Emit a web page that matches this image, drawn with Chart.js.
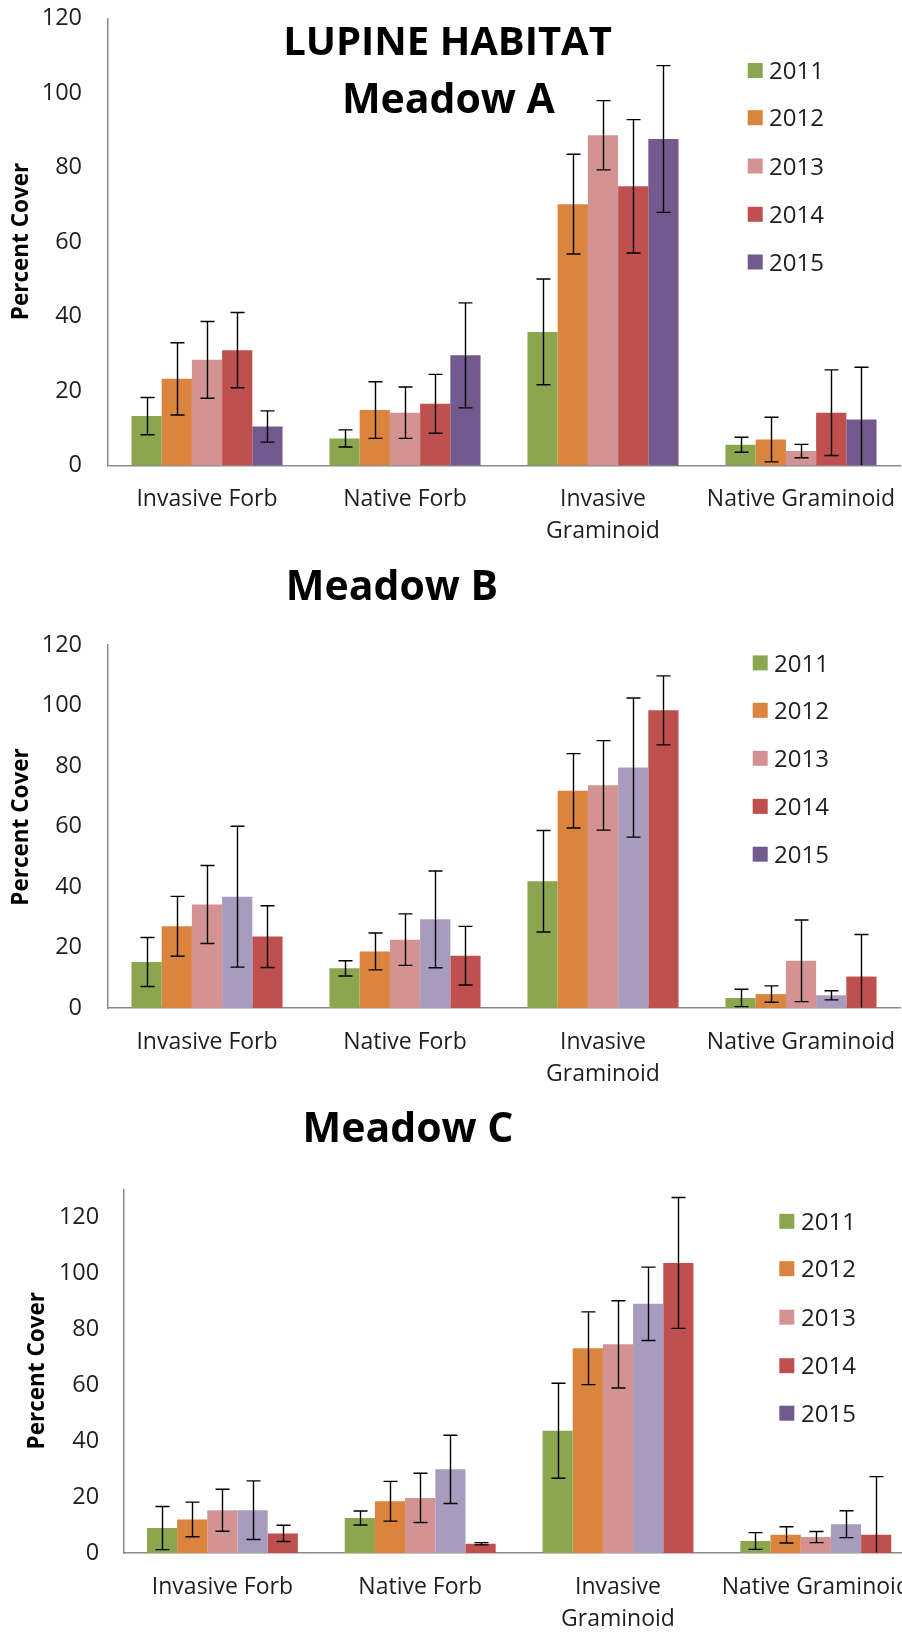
<!DOCTYPE html>
<html><head><meta charset="utf-8">
<script src="https://cdn.jsdelivr.net/npm/chart.js@4.4.1/dist/chart.umd.min.js"></script>
<style>
html,body{margin:0;padding:0;background:#fff;overflow:hidden;width:902px;height:1634px;}
#page{position:relative;width:902px;height:1634px;overflow:hidden;background:#fff;}
canvas{position:absolute;left:0;}
</style></head><body><div id="page">
<canvas id="cA" width="902" height="570" style="top:0px"></canvas>
<canvas id="cB" width="902" height="550" style="top:545px"></canvas>
<canvas id="cC" width="920" height="564" style="top:1070px"></canvas>
</div>
<script>
// ---------- data ----------
const categories = [['Invasive Forb'], ['Native Forb'], ['Invasive', 'Graminoid'], ['Native Graminoid']];
const years = ['2011', '2012', '2013', '2014', '2015'];
const yTickStep = 20;

// rows = series (in drawing order), columns = categories
const meadowAMeans = [
  [13.3, 7.3, 35.9, 5.6],
  [23.3, 14.9, 70.2, 7.0],
  [28.4, 14.2, 88.7, 3.9],
  [31.0, 16.6, 75.0, 14.2],
  [10.5, 29.6, 87.7, 12.4]
];
const meadowAErrors = [
  [5.0, 2.3, 14.2, 2.0],
  [9.7, 7.6, 13.4, 6.0],
  [10.3, 6.9, 9.3, 1.8],
  [10.1, 7.9, 17.9, 11.5],
  [4.2, 14.1, 19.7, 14.0]
];
const meadowBMeans = [
  [15.2, 13.1, 41.9, 3.3],
  [27.0, 18.7, 71.8, 4.6],
  [34.2, 22.6, 73.6, 15.6],
  [36.8, 29.3, 79.5, 4.2],
  [23.6, 17.3, 98.4, 10.4]
];
const meadowBErrors = [
  [8.1, 2.5, 16.8, 2.9],
  [9.9, 6.1, 12.3, 2.7],
  [12.9, 8.5, 14.8, 13.5],
  [23.3, 16.0, 23.0, 1.5],
  [10.2, 9.7, 11.4, 13.9]
];
const meadowCMeans = [
  [8.9, 12.5, 43.7, 4.3],
  [12.0, 18.5, 73.2, 6.5],
  [15.3, 19.7, 74.6, 5.7],
  [15.3, 29.9, 89.1, 10.3],
  [7.0, 3.3, 103.7, 6.5]
];
const meadowCErrors = [
  [7.7, 2.5, 17.0, 3.0],
  [6.2, 7.1, 13.0, 2.9],
  [7.5, 8.8, 15.6, 2.0],
  [10.5, 12.2, 13.1, 4.8],
  [2.9, 0.4, 23.4, 20.8]
];
const yMaxA = 120, yMaxB = 120, yMaxC = 130;

// ---------- styles ----------
const GREEN = '#8BA64F', ORANGE = '#DB843D', PINK = '#D49393', RED = '#C0504D', PURPLE = '#725A8F', LAVENDER = '#A99BBD';
const barColorsA = [GREEN, ORANGE, PINK, RED, PURPLE];
const barColorsBC = [GREEN, ORANGE, PINK, LAVENDER, RED];
const legendColors = [GREEN, ORANGE, PINK, RED, PURPLE];
const FONT = '"Open Sans", "Noto Sans", sans-serif';
const TXT = '#1f1f1f';

const errorBarPlugin = {
  id: 'errbars',
  afterDatasetsDraw(chart) {
    const {ctx, chartArea, scales} = chart;
    const y = scales.y;
    ctx.save();
    ctx.beginPath();
    ctx.rect(chartArea.left, 0, chartArea.right - chartArea.left + 20, chartArea.bottom - 0.5);
    ctx.clip();
    ctx.strokeStyle = '#000';
    ctx.lineWidth = 1.4;
    chart.data.datasets.forEach((ds, di) => {
      const meta = chart.getDatasetMeta(di);
      meta.data.forEach((bar, i) => {
        const v = ds.data[i], e = ds.errors[i];
        const x = Math.round(bar.x) + 0.5;
        const yt = y.getPixelForValue(v + e), yb = y.getPixelForValue(v - e);
        ctx.beginPath();
        ctx.moveTo(x, yt); ctx.lineTo(x, yb);
        ctx.moveTo(x - 7, yt); ctx.lineTo(x + 7, yt);
        ctx.moveTo(x - 7, yb); ctx.lineTo(x + 7, yb);
        ctx.stroke();
      });
    });
    ctx.restore();
  }
};

function overlayPlugin(texts, legend, offY) {
  return {
    id: 'overlay',
    afterDraw(chart) {
      const ctx = chart.ctx;
      ctx.save();
      texts.forEach(t => {
        ctx.save();
        ctx.font = t.font;
        ctx.fillStyle = t.color || '#000';
        ctx.textAlign = 'center';
        ctx.textBaseline = 'alphabetic';
        ctx.translate(t.x, t.y - offY);
        if (t.rot) ctx.rotate(t.rot);
        ctx.fillText(t.text, 0, 0);
        ctx.restore();
      });
      years.forEach((yr, i) => {
        const cy = legend.rows[i] - offY;
        ctx.fillStyle = legendColors[i];
        ctx.fillRect(legend.sx, cy - 7.5, 15, 15);
        ctx.fillStyle = TXT;
        ctx.font = '24px ' + FONT;
        ctx.textAlign = 'left';
        ctx.textBaseline = 'alphabetic';
        ctx.fillText(yr, legend.tx, cy + 8.6);
      });
      ctx.restore();
    }
  };
}

function makeChart(id, means, errs, barColors, yMax, g, texts, legend) {
  return new Chart(document.getElementById(id), {
    type: 'bar',
    data: {
      labels: categories,
      datasets: years.map((yr, i) => ({
        label: yr, data: means[i], errors: errs[i], backgroundColor: barColors[i],
        borderWidth: 0, barPercentage: 1.0, categoryPercentage: 0.763
      }))
    },
    options: {
      responsive: false, animation: false, devicePixelRatio: 1,
      layout: {padding: {top: g.top, right: g.right, left: 0, bottom: 0}},
      plugins: {legend: {display: false}, title: {display: false}, tooltip: {enabled: false}},
      scales: {
        x: {
          grid: {display: false, drawTicks: false},
          border: {display: true, color: '#8A8A8A', width: 1.5},
          ticks: {font: {family: FONT, size: 23, lineHeight: 1.39}, color: TXT, padding: 18, maxRotation: 0, autoSkip: false},
          afterFit(s) { s.height = g.xh; s.paddingLeft = 0; s.paddingRight = 0; }
        },
        y: {
          min: 0, max: yMax,
          grid: {display: false, drawTicks: false},
          border: {display: true, color: '#8A8A8A', width: 1.5},
          ticks: {stepSize: yTickStep, includeBounds: false, font: {family: FONT, size: 23.5}, color: TXT, padding: g.tickPad},
          afterFit(s) { s.width = g.left; s.paddingTop = 0; s.paddingBottom = 0; }
        }
      }
    },
    plugins: [errorBarPlugin, overlayPlugin(texts, legend, g.offY)]
  });
}

function build() {
  makeChart('cA', meadowAMeans, meadowAErrors, barColorsA, yMaxA,
    {offY: 0, top: 18.7, right: 2, left: 108, xh: 570 - 465.6, tickPad: 26},
    [
      {text: 'LUPINE HABITAT', x: 447.5, y: 55, font: 'bold 40px ' + FONT},
      {text: 'Meadow A', x: 448.4, y: 113, font: 'bold 41px ' + FONT},
      {text: 'Percent Cover', x: 28.3, y: 241.5, rot: -Math.PI / 2, font: 'bold 22.5px ' + FONT}
    ],
    {sx: 747.7, tx: 769, rows: [70.5, 117.7, 166, 214.3, 262]});

  makeChart('cB', meadowBMeans, meadowBErrors, barColorsBC, yMaxB,
    {offY: 545, top: 645 - 545, right: 2, left: 108, xh: 550 - 463, tickPad: 26},
    [
      {text: 'Meadow B', x: 392, y: 600, font: 'bold 41px ' + FONT},
      {text: 'Percent Cover', x: 28.3, y: 827, rot: -Math.PI / 2, font: 'bold 22.5px ' + FONT}
    ],
    {sx: 752.7, tx: 774, rows: [662.9, 710.3, 758.3, 806.4, 854.2]});

  makeChart('cC', meadowCMeans, meadowCErrors, barColorsBC, yMaxC,
    {offY: 1070, top: 1189.4 - 1070, right: 5.3, left: 123.5, xh: 564 - 483, tickPad: 24.3},
    [
      {text: 'Meadow C', x: 408, y: 1142.4, font: 'bold 41px ' + FONT},
      {text: 'Percent Cover', x: 44, y: 1370.7, rot: -Math.PI / 2, font: 'bold 22.5px ' + FONT}
    ],
    {sx: 779.3, tx: 801, rows: [1221.3, 1268.7, 1317.2, 1365.7, 1413.2]});
}

if (document.fonts && document.fonts.load) {
  Promise.all([
    document.fonts.load('23px "Open Sans"'),
    document.fonts.load('bold 40px "Open Sans"')
  ]).then(build, build);
} else {
  build();
}
</script>
</body></html>
